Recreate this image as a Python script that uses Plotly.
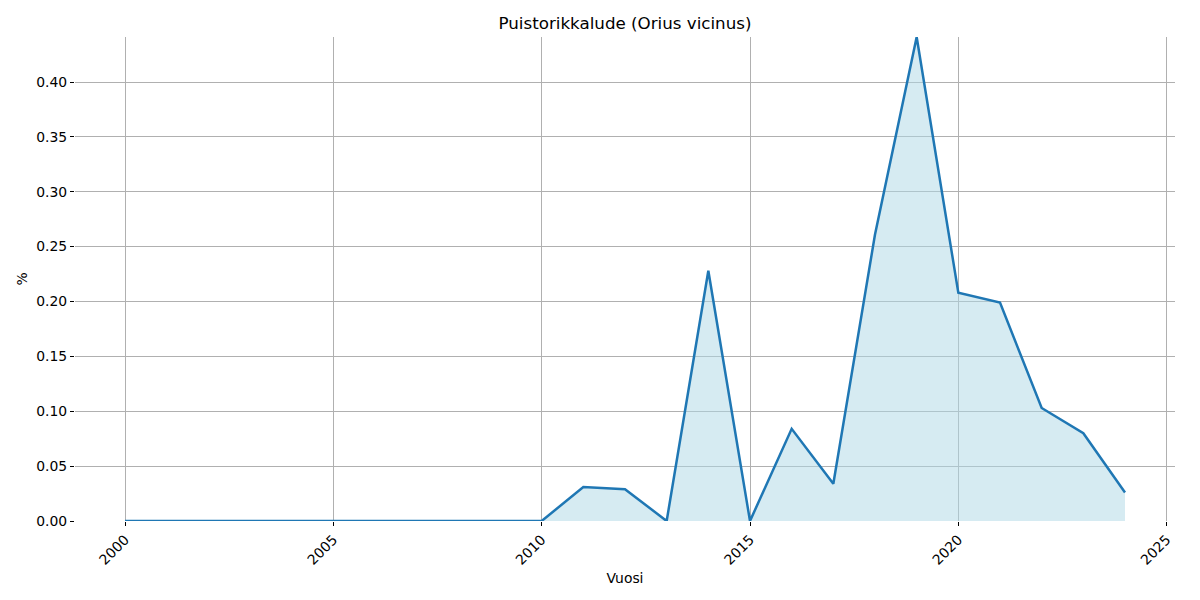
import plotly.graph_objects as go

years = list(range(2000, 2025))
values = [0, 0, 0, 0, 0, 0, 0, 0, 0, 0, 0,
          0.031, 0.029, 0.0, 0.228, 0.0, 0.084, 0.034, 0.261, 0.441,
          0.208, 0.199, 0.103, 0.080, 0.026]
x_ticks = [2000, 2005, 2010, 2015, 2020, 2025]
y_ticks = [0.0, 0.05, 0.10, 0.15, 0.20, 0.25, 0.30, 0.35, 0.40]

fig = go.Figure()
fig.add_trace(go.Scatter(x=years, y=values, mode="none", fill="tozeroy",
                         fillcolor="rgba(173,216,230,0.5)", showlegend=False,
                         hoverinfo="skip"))
fig.add_trace(go.Scatter(x=years, y=values, mode="lines",
                         line=dict(color="#1f77b4", width=2.5), showlegend=False))

font = "DejaVu Sans"
fig.update_layout(
    width=1200, height=600,
    paper_bgcolor="white", plot_bgcolor="white",
    margin=dict(l=67, r=33, t=29, b=87),
    title=dict(text="Puistorikkalude (Orius vicinus)", x=0.5, xanchor="center",
               xref="paper",
               y=1 - 15/600, yanchor="middle",
               font=dict(family=font, size=16.7, color="black")),
    font=dict(family=font, size=13.9, color="black"),
)
fig.update_xaxes(range=[1998.8, 2025.2], tickvals=x_ticks, ticktext=[str(t) for t in x_ticks],
                 tickangle=-45, showgrid=True, gridcolor="#b0b0b0", gridwidth=1,
                 ticks="outside", ticklen=4, tickcolor="black", zeroline=False,
                 showline=False, automargin=False,
                 title=dict(text="Vuosi", font=dict(family=font, size=13.9), standoff=6))
fig.update_yaxes(range=[0, 0.441], tickvals=y_ticks, ticktext=[f"{t:.2f}" for t in y_ticks],
                 showgrid=True, gridcolor="#b0b0b0", gridwidth=1,
                 ticks="outside", ticklen=4, tickcolor="black", zeroline=False,
                 showline=False, automargin=False,
                 title=dict(text="%", font=dict(family=font, size=13.9), standoff=5))

fig.write_html("out.html")
